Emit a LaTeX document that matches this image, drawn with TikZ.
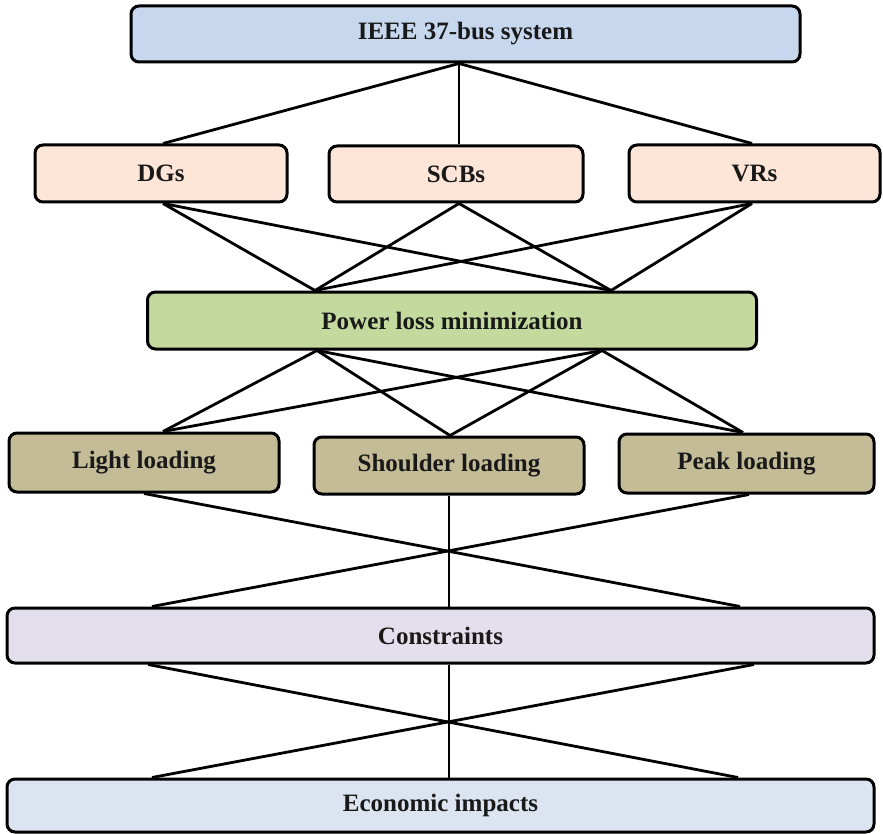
\documentclass[tikz,border=0pt]{standalone}
\usepackage{fontspec}
\setmainfont{Liberation Serif}
\begin{document}
\begin{tikzpicture}[x=1pt,y=-1pt,
  box/.style={draw=black,line width=3pt,rounded corners=8pt,inner sep=0pt,
    font=\fontsize{25}{30}\selectfont\bfseries,text=black!90},
  link/.style={draw=black,line width=2.8pt},
  stem/.style={draw=black,line width=2pt}]
\definecolor{sysblue}{HTML}{C6D7EE}
\definecolor{devpeach}{HTML}{FDE6D8}
\definecolor{objgreen}{HTML}{C3D99E}
\definecolor{loadtan}{HTML}{C4BC97}
\definecolor{conlav}{HTML}{E4DFEC}
\definecolor{ecoblue}{HTML}{DBE4F0}
\useasboundingbox (0,0) rectangle (883,834);

% boxes
\node[box,fill=sysblue,minimum width=669pt,minimum height=56pt] (sys) at (465.5,34) {IEEE 37-bus system};
\node[box,fill=devpeach,minimum width=252pt,minimum height=57pt] (dg) at (161,173.5) {DGs};
\node[box,fill=devpeach,minimum width=254pt,minimum height=56pt] (scb) at (456,174) {SCBs};
\node[box,fill=devpeach,minimum width=251pt,minimum height=57pt] (vr) at (754.5,173.5) {VRs};
\node[box,fill=objgreen,minimum width=609pt,minimum height=57pt] (plm) at (452,320.5) {Power loss minimization};
\node[box,fill=loadtan,minimum width=270pt,minimum height=59pt] (light) at (144,462.5) {Light loading};
\node[box,fill=loadtan,minimum width=270pt,minimum height=57pt] (shoulder) at (449,465.5) {Shoulder loading};
\node[box,fill=loadtan,minimum width=255pt,minimum height=59pt] (peak) at (746.5,463.5) {Peak loading};
\node[box,fill=conlav,minimum width=867pt,minimum height=55pt] (con) at (440.5,635.5) {Constraints};
\node[box,fill=ecoblue,minimum width=867pt,minimum height=53pt] (eco) at (440.5,805.5) {Economic impacts};

% system to devices
\draw[link] ([xshift=-6.5pt]sys.south) -- ([xshift=2pt]dg.north);
\draw[link] ([xshift=-6.5pt]sys.south) -- ([xshift=3pt]scb.north);
\draw[link] ([xshift=-6.5pt]sys.south) -- ([xshift=-2.5pt]vr.north);

% devices to objective
\foreach \d/\s in {dg/2pt,scb/3pt,vr/-2.5pt}{
  \draw[link] ([xshift=\s]\d.south) -- ([xshift=-137pt]plm.north);
  \draw[link] ([xshift=\s]\d.south) -- ([xshift=159pt]plm.north);
}

% objective to loading levels
\foreach \l/\s in {light/19pt,shoulder/1pt,peak/-3.5pt}{
  \draw[link] ([xshift=-135pt]plm.south) -- ([xshift=\s]\l.north);
  \draw[link] ([xshift=150pt]plm.south) -- ([xshift=\s]\l.north);
}

% loading levels to constraints
\draw[link] (light.south) -- ([xshift=299.5pt]con.north);
\draw[link] ([xshift=2.5pt]peak.south) -- ([xshift=-288.5pt]con.north);
\draw[stem] (shoulder.south) -- ([xshift=8.5pt]con.north);

% constraints to economic impacts
\draw[link] ([xshift=-292.5pt]con.south) -- ([xshift=297.5pt]eco.north);
\draw[link] ([xshift=313.5pt]con.south) -- ([xshift=-288.5pt]eco.north);
\draw[stem] ([xshift=8.5pt]con.south) -- ([xshift=8.5pt]eco.north);
\end{tikzpicture}
\end{document}
